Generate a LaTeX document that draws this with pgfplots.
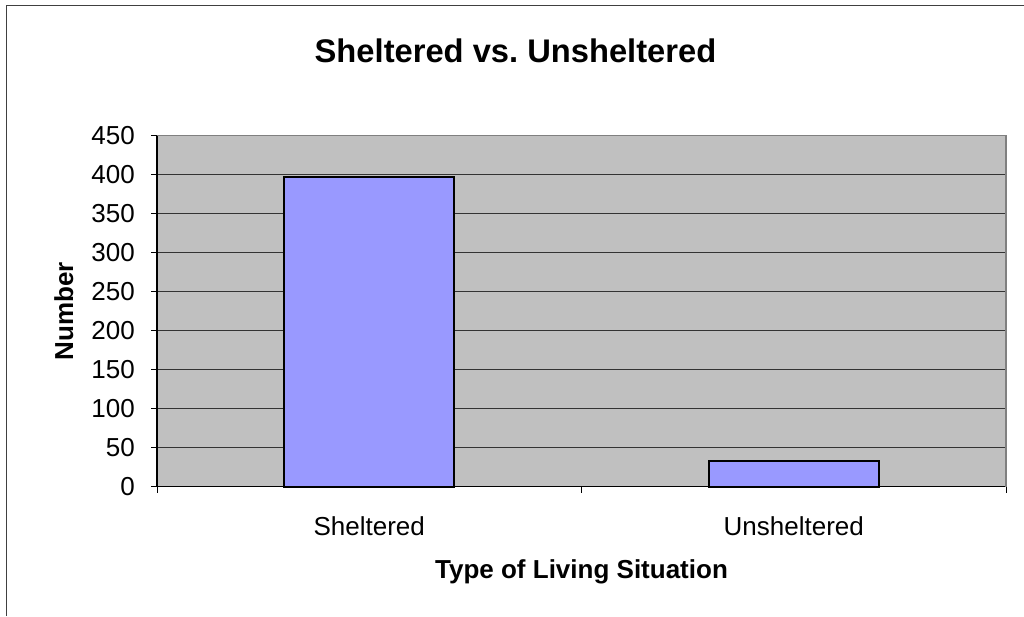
\documentclass[border=0pt]{standalone}
\usepackage{fontspec}
\setmainfont{Liberation Sans}
\usepackage{pgfplots}
\pgfplotsset{compat=1.18}
\definecolor{plotgray}{HTML}{C0C0C0}
\definecolor{barblue}{HTML}{9999FF}
\begin{document}
\begin{tikzpicture}[x=1pt,y=1pt]
\path[use as bounding box] (0,0) rectangle (1024,616);
\draw[line width=1pt, color=black!75] (6,0) -- (6,610) -- (1024,610);
\begin{axis}[
 at={(157pt,129.5pt)}, anchor=south west, scale only axis,
 width=849pt, height=351pt,
 xmin=0.5, xmax=2.5, ymin=0, ymax=450,
 axis x line*=bottom, axis y line*=left,
 axis line style={black, line width=1.2pt, -},
 ytick={0,50,...,450},
 xtick={0.5,1.5,2.5}, xticklabels={},
 extra x ticks={1,2},
 extra x tick labels={Sheltered,Unsheltered},
 extra x tick style={major tick length=0pt, xticklabel style={anchor=north, inner sep=0pt, yshift=-30pt}},
 tick align=outside, major tick length=6pt,
 tick style={black, line width=1pt},
 axis background/.style={fill=plotgray},
 ymajorgrids, major grid style={black!80, line width=1pt},
 /pgf/number format/assume math mode=true,
 tick label style={font=\fontsize{26}{31}\selectfont},
 yticklabel style={anchor=east, inner sep=0pt, xshift=-16pt},
 xlabel={Type of Living Situation},
 ylabel={Number},
 label style={font=\fontsize{26}{31}\selectfont\bfseries},
 xlabel style={at={(axis description cs:0.5,0)}, anchor=base, yshift=-91.5pt},
 ylabel style={at={(axis description cs:0,0.5)}, anchor=base, yshift=84pt},
 title={Sheltered vs.\ Unsheltered},
 title style={font=\fontsize{32.7}{38}\selectfont\bfseries, at={(axis description cs:0.5,1)}, anchor=base, yshift=67pt, xshift=-66pt},
 clip=false,
]
\addplot[ybar, bar width=170pt, fill=barblue, draw=black, line width=2pt] coordinates {(1,397) (2,33)};
\draw[color=black!50, line width=1.5pt] (rel axis cs:0,1) -- (rel axis cs:1,1) -- (rel axis cs:1,0);
\end{axis}
\end{tikzpicture}
\end{document}
